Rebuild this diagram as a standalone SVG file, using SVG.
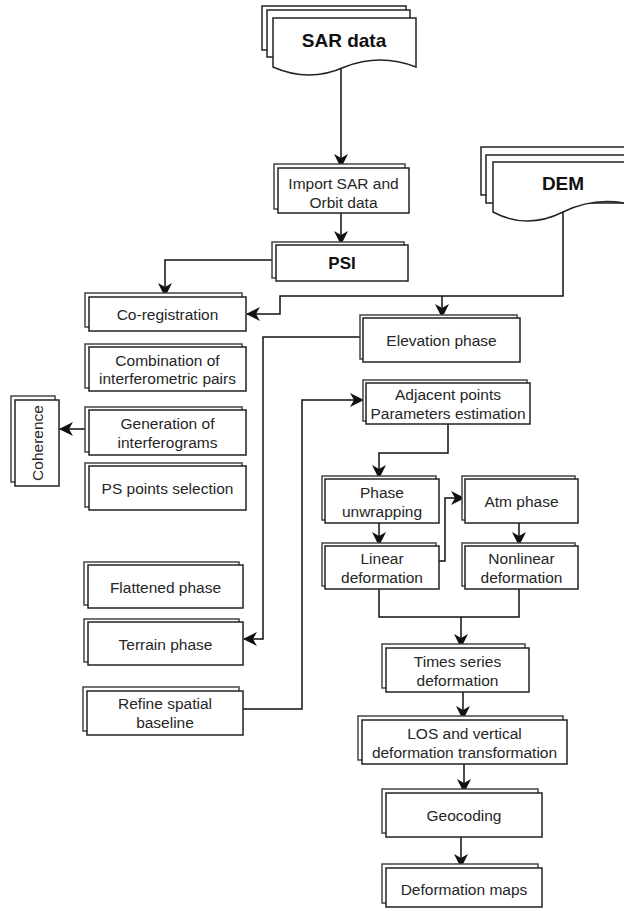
<svg xmlns="http://www.w3.org/2000/svg" width="624" height="911" viewBox="0 0 624 911">
<defs>
<style>
.b{fill:#fff;stroke:#222;stroke-width:1.5}
.s{fill:#fff;stroke:#444;stroke-width:1.5}
.t{font-family:"Liberation Sans",Arial,sans-serif;font-size:15.5px;fill:#262626;text-anchor:middle;dominant-baseline:central}
.tb{font-family:"Liberation Sans",Arial,sans-serif;font-weight:bold;fill:#111;text-anchor:middle;dominant-baseline:central}
.c{fill:none;stroke:#111;stroke-width:1.5}
.a{marker-end:url(#arr)}
</style>
<marker id="arr" markerUnits="userSpaceOnUse" markerWidth="16" markerHeight="14" refX="13" refY="7" orient="auto">
<path d="M0,0 L14,7 L0,14 L4,7 Z" fill="#111"/>
</marker>
</defs>
<rect width="624" height="911" fill="#fff"/>

<g id="connectors">
<path class="c a" d="M341,68 V167"/>
<path class="c a" d="M341,213 V244"/>
<path class="c a" d="M272,260 H165 V296"/>
<path class="c a" d="M563,212 V296 H280 V314 H247"/>
<path class="c a" d="M442,296 V317"/>
<path class="c a" d="M360,337 H263 V639 H244"/>
<path class="c a" d="M86,429 H60"/>
<path class="c a" d="M243,709 H302 V400 H363"/>
<path class="c a" d="M448,424 V453 H379 V478"/>
<path class="c a" d="M379,523 V545"/>
<path class="c a" d="M439,561 H445 V498 H464"/>
<path class="c a" d="M519,523 V545"/>
<path class="c" d="M379,589 V617 H519 V589"/>
<path class="c a" d="M461,617 V647"/>
<path class="c a" d="M463,692 V719"/>
<path class="c a" d="M464,764 V792"/>
<path class="c a" d="M461,837 V867"/>
</g>

<g id="sar-data">
<path class="b" d="M262,50 V6 H406 V50 Z"/>
<path class="b" d="M267,57 V10 H410 V57 Z"/>
<path class="b" d="M273,18 H416 V67 Q380,53 344.5,67 Q309,83 273,67 Z"/>
<text class="tb" x="344" y="40" font-size="19">SAR data</text>
</g>

<g id="dem">
<path class="b" d="M481,195 V147 H640 V195 Z"/>
<path class="b" d="M486,203 V155 H640 V203 Z"/>
<path class="b" d="M493,162 H640 V207 Q600,194 563,212 Q527,230 493,212 Z"/>
<text class="tb" x="563" y="183" font-size="19">DEM</text>
</g>

<g id="import">
<rect class="s" x="274" y="164" width="131" height="45"/>
<rect class="b" x="278" y="168" width="131" height="45"/>
<text class="t" x="343.5" y="183">Import SAR and</text>
<text class="t" x="343.5" y="202">Orbit data</text>
</g>

<g id="psi">
<rect class="s" x="272" y="242" width="132" height="36"/>
<rect class="b" x="276" y="245" width="132" height="36"/>
<text class="tb" x="342" y="263" font-size="17">PSI</text>
</g>

<g id="coregistration">
<rect class="s" x="85" y="293" width="157" height="34"/>
<rect class="b" x="89" y="297" width="157" height="34"/>
<text class="t" x="167.5" y="314">Co-registration</text>
</g>

<g id="combination">
<rect class="s" x="85" y="344" width="157" height="44"/>
<rect class="b" x="89" y="347" width="157" height="44"/>
<text class="t" x="167.5" y="360">Combination of</text>
<text class="t" x="167.5" y="378.5">interferometric pairs</text>
</g>

<g id="generation">
<rect class="s" x="85" y="407" width="157" height="45"/>
<rect class="b" x="89" y="410" width="157" height="45"/>
<text class="t" x="167.5" y="423">Generation of</text>
<text class="t" x="167.5" y="442">interferograms</text>
</g>

<g id="coherence">
<rect class="s" x="11" y="396" width="44" height="86"/>
<rect class="b" x="15" y="400" width="44" height="86"/>
<text class="t" x="0" y="0" transform="translate(37,443) rotate(-90)" font-size="16">Coherence</text>
</g>

<g id="ps-selection">
<rect class="s" x="85" y="463" width="157" height="44"/>
<rect class="b" x="89" y="466" width="157" height="44"/>
<text class="t" x="167.5" y="488">PS points selection</text>
</g>

<g id="flattened">
<rect class="s" x="84" y="562" width="155" height="43"/>
<rect class="b" x="88" y="565" width="155" height="43"/>
<text class="t" x="165.5" y="587">Flattened phase</text>
</g>

<g id="terrain">
<rect class="s" x="84" y="619" width="155" height="43"/>
<rect class="b" x="88" y="622" width="155" height="43"/>
<text class="t" x="165.5" y="644">Terrain phase</text>
</g>

<g id="refine">
<rect class="s" x="83" y="687" width="156" height="44"/>
<rect class="b" x="87" y="691" width="156" height="44"/>
<text class="t" x="165" y="703.5">Refine spatial</text>
<text class="t" x="165" y="722.5">baseline</text>
</g>

<g id="elevation">
<rect class="s" x="360" y="315" width="157" height="44"/>
<rect class="b" x="363" y="318" width="157" height="44"/>
<text class="t" x="441.5" y="340">Elevation phase</text>
</g>

<g id="adjacent">
<rect class="s" x="363" y="380" width="164" height="41"/>
<rect class="b" x="366" y="383" width="164" height="41"/>
<text class="t" x="448" y="394">Adjacent points</text>
<text class="t" x="448" y="413">Parameters estimation</text>
</g>

<g id="phase-unwrapping">
<rect class="s" x="322" y="476" width="114" height="44"/>
<rect class="b" x="325" y="479" width="114" height="44"/>
<text class="t" x="382" y="492">Phase</text>
<text class="t" x="382" y="511">unwrapping</text>
</g>

<g id="linear">
<rect class="s" x="322" y="543" width="114" height="43"/>
<rect class="b" x="325" y="546" width="114" height="43"/>
<text class="t" x="382" y="558">Linear</text>
<text class="t" x="382" y="577">deformation</text>
</g>

<g id="atm">
<rect class="s" x="462" y="476" width="113" height="44"/>
<rect class="b" x="465" y="479" width="113" height="44"/>
<text class="t" x="521.5" y="501">Atm phase</text>
</g>

<g id="nonlinear">
<rect class="s" x="462" y="543" width="113" height="43"/>
<rect class="b" x="465" y="546" width="113" height="43"/>
<text class="t" x="521.5" y="558">Nonlinear</text>
<text class="t" x="521.5" y="577">deformation</text>
</g>

<g id="times-series">
<rect class="s" x="382" y="644" width="143" height="44"/>
<rect class="b" x="386" y="648" width="143" height="44"/>
<text class="t" x="457.5" y="661">Times series</text>
<text class="t" x="457.5" y="680">deformation</text>
</g>

<g id="los">
<rect class="s" x="358" y="716" width="205" height="44"/>
<rect class="b" x="362" y="720" width="205" height="44"/>
<text class="t" x="464.5" y="733">LOS and vertical</text>
<text class="t" x="464.5" y="752">deformation transformation</text>
</g>

<g id="geocoding">
<rect class="s" x="382" y="789" width="156" height="44"/>
<rect class="b" x="386" y="793" width="156" height="44"/>
<text class="t" x="464" y="815">Geocoding</text>
</g>

<g id="deformation-maps">
<rect class="s" x="382" y="864" width="156" height="39"/>
<rect class="b" x="386" y="868" width="156" height="39"/>
<text class="t" x="464" y="889">Deformation maps</text>
</g>
</svg>
